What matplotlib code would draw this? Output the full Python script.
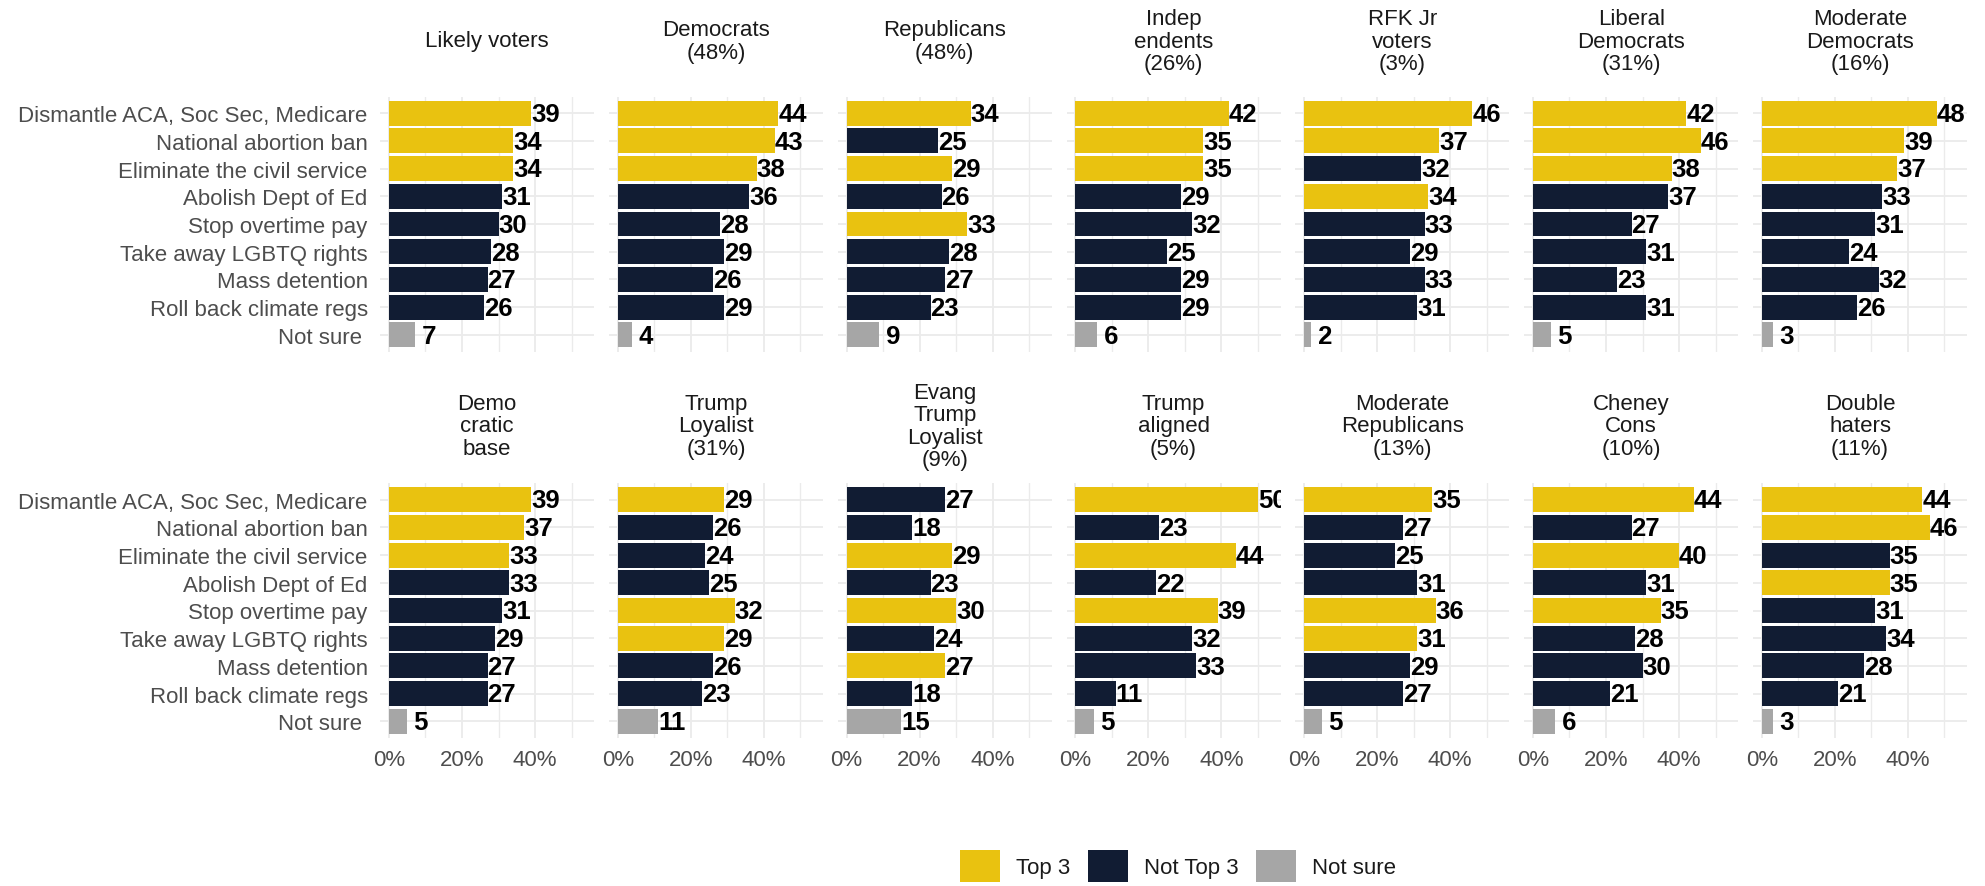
import numpy as np
import matplotlib
matplotlib.use("Agg")
import matplotlib.pyplot as plt
from matplotlib.patches import Patch

plt.rcParams['font.family'] = ['Liberation Sans', 'DejaVu Sans']

items = ["Dismantle ACA, Soc Sec, Medicare", "National abortion ban",
         "Eliminate the civil service", "Abolish Dept of Ed", "Stop overtime pay",
         "Take away LGBTQ rights", "Mass detention", "Roll back climate regs",
         "Not sure "]

# values per group (same order as items), top3 = indices coloured yellow
likely = [39, 34, 34, 31, 30, 28, 27, 26, 7]
dems = [44, 43, 38, 36, 28, 29, 26, 29, 4]
reps = [34, 25, 29, 26, 33, 28, 27, 23, 9]
indeps = [42, 35, 35, 29, 32, 25, 29, 29, 6]
rfk = [46, 37, 32, 34, 33, 29, 33, 31, 2]
lib_dems = [42, 46, 38, 37, 27, 31, 23, 31, 5]
mod_dems = [48, 39, 37, 33, 31, 24, 32, 26, 3]
dem_base = [39, 37, 33, 33, 31, 29, 27, 27, 5]
trump_loyal = [29, 26, 24, 25, 32, 29, 26, 23, 11]
evang = [27, 18, 29, 23, 30, 24, 27, 18, 15]
trump_aligned = [50, 23, 44, 22, 39, 32, 33, 11, 5]
mod_reps = [35, 27, 25, 31, 36, 31, 29, 27, 5]
cheney = [44, 27, 40, 31, 35, 28, 30, 21, 6]
double_haters = [44, 46, 35, 35, 31, 34, 28, 21, 3]

panels = [
    ("Likely voters", likely, [0, 1, 2]),
    ("Democrats\n(48%)", dems, [0, 1, 2]),
    ("Republicans\n(48%)", reps, [0, 2, 4]),
    ("Indep\nendents\n(26%)", indeps, [0, 1, 2]),
    ("RFK Jr\nvoters\n(3%)", rfk, [0, 1, 3]),
    ("Liberal\nDemocrats\n(31%)", lib_dems, [0, 1, 2]),
    ("Moderate\nDemocrats\n(16%)", mod_dems, [0, 1, 2]),
    ("Demo\ncratic\nbase", dem_base, [0, 1, 2]),
    ("Trump\nLoyalist\n(31%)", trump_loyal, [0, 4, 5]),
    ("Evang\nTrump\nLoyalist\n(9%)", evang, [2, 4, 6]),
    ("Trump\naligned\n(5%)", trump_aligned, [0, 2, 4]),
    ("Moderate\nRepublicans\n(13%)", mod_reps, [0, 4, 5]),
    ("Cheney\nCons\n(10%)", cheney, [0, 2, 4]),
    ("Double\nhaters\n(11%)", double_haters, [0, 1, 3]),
]

YELLOW, NAVY, GREY = '#E9C210', '#111C33', '#A6A6A6'
FS = 16

W, H = 1985, 887
fig = plt.figure(figsize=(W / 100, H / 100), dpi=100)

x0, pitch, pw, ph = 380.2, 228.8, 214, 255
row_top = [97.5, 484]
title_y = [42, 427]

for k, (title, vals, top) in enumerate(panels):
    r, c = divmod(k, 7)
    left = x0 + c * pitch
    ax = fig.add_axes([left / W, 1 - (row_top[r] + ph) / H, pw / W, ph / H])
    y = np.arange(len(items))
    colors = [GREY if i == len(items) - 1 else (YELLOW if i in top else NAVY)
              for i in range(len(items))]
    ax.barh(y, vals, height=0.9, color=colors, zorder=2)
    for yi, v in zip(y, vals):
        ax.text(v, yi + 0.03, f"{v:2d}", ha='left', va='center', fontsize=18.5,
                fontweight='bold', color='black', clip_on=True, zorder=3)
    ax.set_xlim(-2.4, 56.2)
    ax.set_ylim(len(items) - 0.4, -0.6)
    ax.set_xticks([0, 20, 40])
    ax.set_xticks([10, 30, 50], minor=True)
    ax.set_yticks(y)
    ax.set_axisbelow(True)
    ax.grid(which='major', color='#EBEBEB', lw=1.3)
    ax.grid(which='minor', axis='x', color='#EBEBEB', lw=1.0)
    ax.tick_params(which='both', length=0)
    for s in ax.spines.values():
        s.set_visible(False)
    if c == 0:
        ax.set_yticklabels(items, fontsize=FS, color='#4D4D4D')
        ax.tick_params(axis='y', pad=9)
    else:
        ax.set_yticklabels([])
    if r == 1:
        ax.set_xticklabels(['0%', '20%', '40%'], fontsize=FS, color='#4D4D4D')
        ax.tick_params(axis='x', pad=8)
    else:
        ax.set_xticklabels([])
    fig.text((left + pw / 2) / W, 1 - title_y[r] / H, title, ha='center',
             va='center', fontsize=FS, color='#1A1A1A', linespacing=1.1)

handles = [Patch(facecolor=col, edgecolor='none') for col in (YELLOW, NAVY, GREY)]
leg = fig.legend(handles, ['Top 3', 'Not Top 3', 'Not sure'], loc='center',
                 bbox_to_anchor=(1178 / W, 1 - 867 / H), ncol=3, frameon=False,
                 fontsize=FS, handlelength=1.8, handleheight=1.8,
                 handletextpad=0.72, columnspacing=0.79, borderpad=0)
for t in leg.get_texts():
    t.set_color('#1A1A1A')

fig.savefig('out.png', dpi=100)
